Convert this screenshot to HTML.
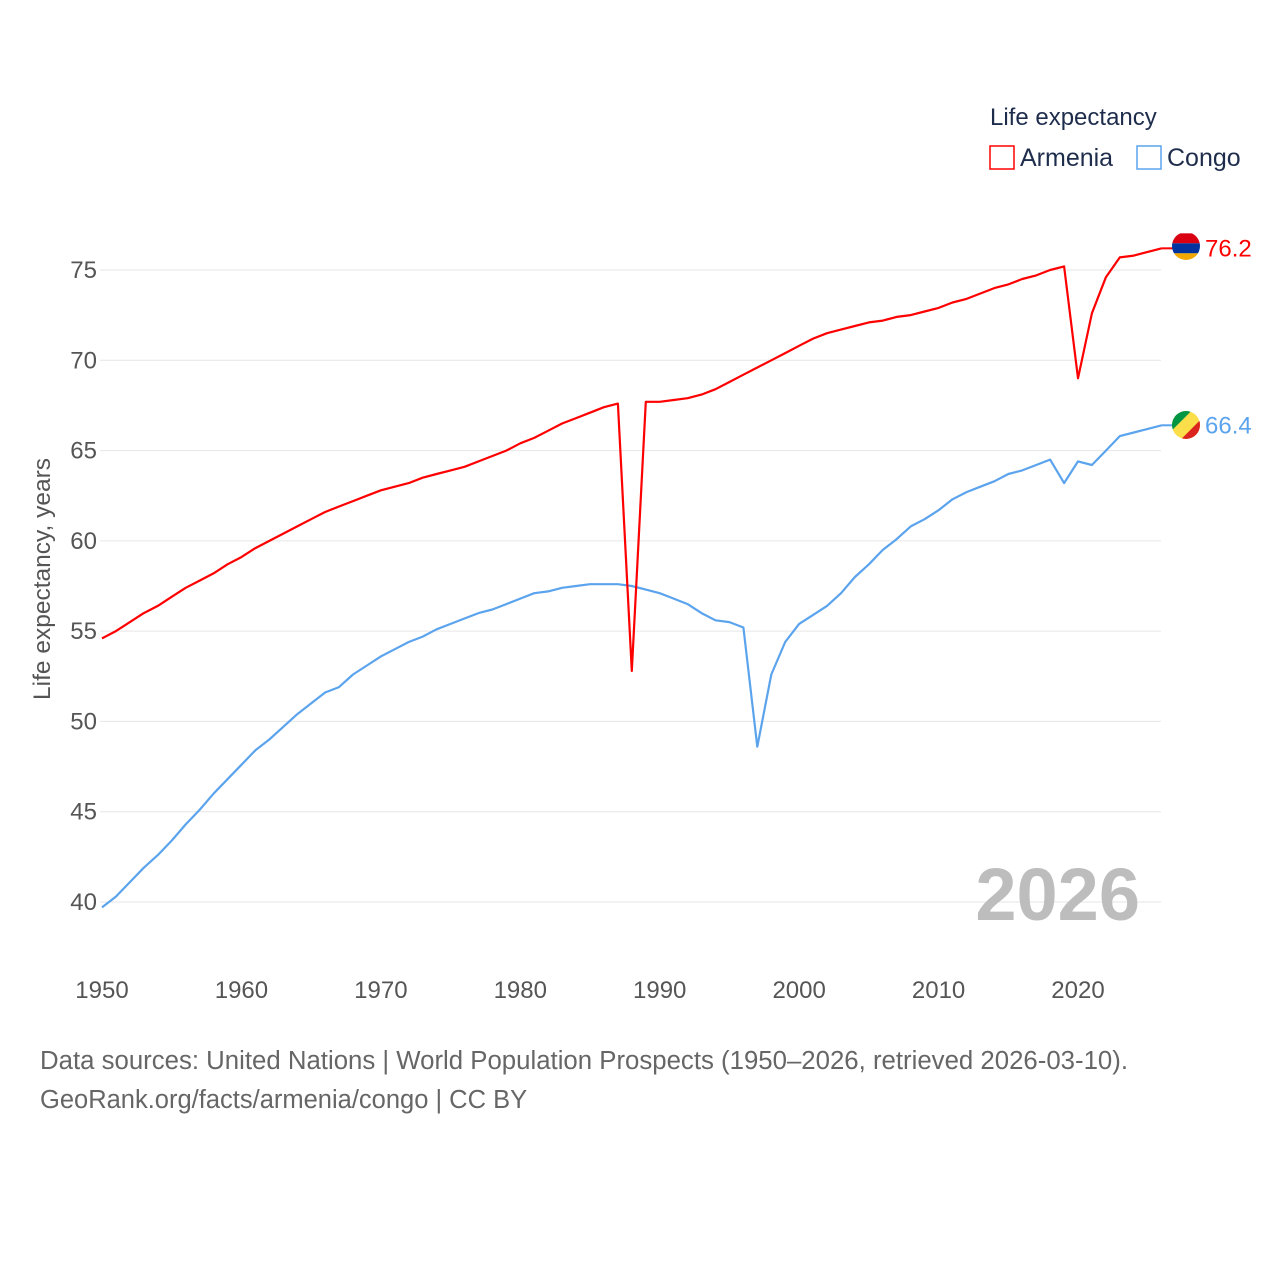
<!DOCTYPE html>
<html><head><meta charset="utf-8"><style>
html,body{margin:0;padding:0;background:#fff;}
svg text{font-family:"Liberation Sans",sans-serif;}
</style></head><body>
<svg id="chart" width="1280" height="1280" viewBox="0 0 1280 1280" xmlns="http://www.w3.org/2000/svg">
<g id="grid"></g>
<g id="yticks"></g>
<g id="xticks"></g>
<text x="1140" y="920" text-anchor="end" font-size="74" font-weight="bold" fill="#bdbdbd">2026</text>
<g id="series"></g>
<text transform="translate(50,579) rotate(-90)" text-anchor="middle" font-size="24.5" fill="#555">Life expectancy, years</text>
<g>
<text x="990" y="125" font-size="24" fill="#1f2d4d">Life expectancy</text>
<g><rect x="990" y="146" width="24" height="23" fill="none" stroke="#ff0000" stroke-width="1.5"/><text x="1020" y="166" font-size="25" fill="#1f2d4d">Armenia</text></g>
<g><rect x="1137" y="146" width="24" height="23" fill="none" stroke="#5ba4ed" stroke-width="1.5"/><text x="1167" y="166" font-size="25" fill="#1f2d4d">Congo</text></g>
</g>
<g id="ends"></g>
<text x="40" y="1069" font-size="25.5" fill="#666" textLength="1088" lengthAdjust="spacingAndGlyphs">Data sources: United Nations | World Population Prospects (1950–2026, retrieved 2026-03-10).</text>
<text x="40" y="1108" font-size="25.5" fill="#666">GeoRank.org/facts/armenia/congo | CC BY</text>
<defs>
<clipPath id="c1"><circle cx="1186" cy="246" r="14"/></clipPath>
<clipPath id="c2"><circle cx="1186" cy="425" r="14"/></clipPath>
</defs>
</svg>
<script>
const startYear = 1950;
const armenia = [54.6,55.0,55.5,56.0,56.4,56.9,57.4,57.8,58.2,58.7,59.1,59.6,60.0,60.4,60.8,61.2,61.6,61.9,62.2,62.5,62.8,63.0,63.2,63.5,63.7,63.9,64.1,64.4,64.7,65.0,65.4,65.7,66.1,66.5,66.8,67.1,67.4,67.6,52.8,67.7,67.7,67.8,67.9,68.1,68.4,68.8,69.2,69.6,70.0,70.4,70.8,71.2,71.5,71.7,71.9,72.1,72.2,72.4,72.5,72.7,72.9,73.2,73.4,73.7,74.0,74.2,74.5,74.7,75.0,75.2,69.0,72.6,74.6,75.7,75.8,76.0,76.2];
const congo = [39.7,40.3,41.1,41.9,42.6,43.4,44.3,45.1,46.0,46.8,47.6,48.4,49.0,49.7,50.4,51.0,51.6,51.9,52.6,53.1,53.6,54.0,54.4,54.7,55.1,55.4,55.7,56.0,56.2,56.5,56.8,57.1,57.2,57.4,57.5,57.6,57.6,57.6,57.5,57.3,57.1,56.8,56.5,56.0,55.6,55.5,55.2,48.6,52.6,54.4,55.4,55.9,56.4,57.1,58.0,58.7,59.5,60.1,60.8,61.2,61.7,62.3,62.7,63.0,63.3,63.7,63.9,64.2,64.5,63.2,64.4,64.2,65.0,65.8,66.0,66.2,66.4];
const yTicks = [40,45,50,55,60,65,70,75];
const xTicks = [1950,1960,1970,1980,1990,2000,2010,2020];
const NS="http://www.w3.org/2000/svg";
const xs = y => 102 + (y-1950)*(976/70);
const ys = v => 902 - (v-40)*(632/35);
function mk(tag, attrs, parent){const e=document.createElementNS(NS,tag);for(const k in attrs)e.setAttribute(k,attrs[k]);parent.appendChild(e);return e;}
const grid=document.getElementById('grid'), yt=document.getElementById('yticks'), xt=document.getElementById('xticks');
yTicks.forEach(v=>{
  const l=mk('line',{x1:100,x2:1161,y1:ys(v),y2:ys(v),stroke:'#e6e6e6','stroke-width':1},grid);
  
  
  const t=mk('text',{x:97,y:ys(v)+8,'text-anchor':'end','font-size':24,fill:'#555'},yt);
  t.textContent=v;
  
  
});
xTicks.forEach(y=>{
  const t=mk('text',{x:xs(y),y:998,'text-anchor':'middle','font-size':24,fill:'#555'},xt);
  t.textContent=y;
  
  
});
const sg=document.getElementById('series');
function line(data,color,name){
  const d=data.map((v,i)=>(i?'L':'M')+xs(startYear+i).toFixed(1)+','+ys(v).toFixed(1)).join(' ');
  const p=mk('path',{d:d,fill:'none',stroke:color,'stroke-width':2.2,'stroke-linejoin':'round'},sg);
  
  
}
line(congo,'#5ba4ed','line-congo');
line(armenia,'#ff0000','line-armenia');
const ends=document.getElementById('ends');
function endLabel(data,color,name,flag){
  const v=data[data.length-1], x=xs(startYear+data.length-1), y=ys(v);
  const g=mk('g',{},ends);
  
  
  mk('line',{x1:x,x2:1176,y1:y,y2:y,stroke:color,'stroke-width':2},g);
  flag(g,y);
  const t=mk('text',{x:1205,y:y+8,'font-size':24,fill:color},g);
  t.textContent=v.toFixed(1);
}
endLabel(armenia,'#ff0000','end-label-armenia',(g,y)=>{
  const f=mk('g',{'clip-path':'url(#c1)'},g);
  mk('rect',{x:1170,y:y-15,width:32,height:10,fill:'#d90012'},f);
  mk('rect',{x:1170,y:y-5,width:32,height:10,fill:'#0033a0'},f);
  mk('rect',{x:1170,y:y+5,width:32,height:10,fill:'#f2a800'},f);
});
endLabel(congo,'#5ba4ed','end-label-congo',(g,y)=>{
  const f=mk('g',{'clip-path':'url(#c2)'},g);
  mk('rect',{x:1170,y:y-15,width:32,height:30,fill:'#fbde4a'},f);
  mk('polygon',{points:`1170,${y-15} 1192,${y-15} 1170,${y+7}`,fill:'#009543'},f);
  mk('polygon',{points:`1202,${y+15} 1180,${y+15} 1202,${y-7}`,fill:'#dc241f'},f);
});
</script>
</body></html>
